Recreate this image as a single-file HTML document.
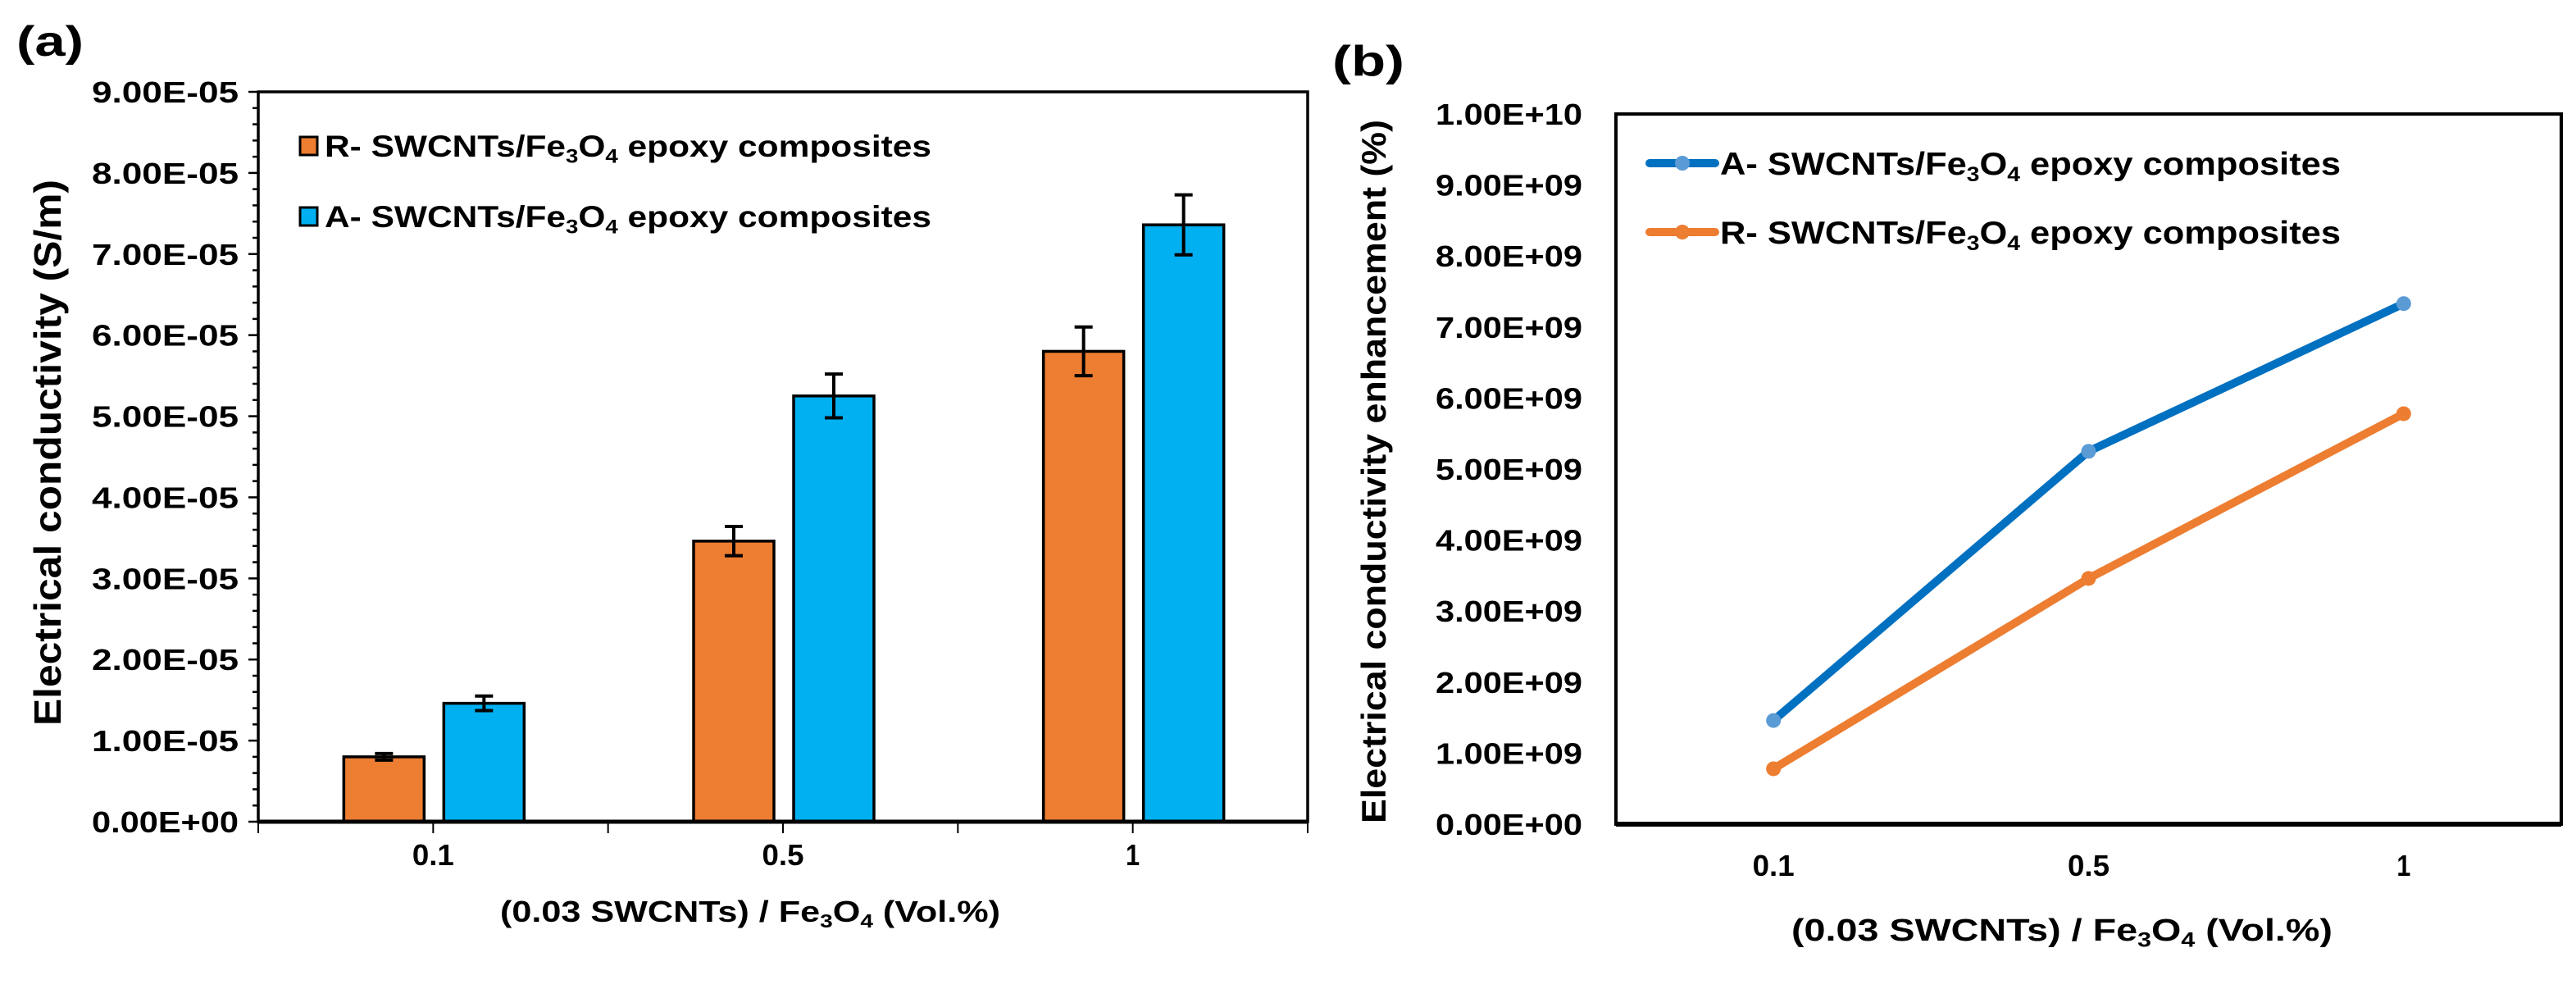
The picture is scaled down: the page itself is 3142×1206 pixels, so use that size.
<!DOCTYPE html>
<html><head><meta charset="utf-8"><style>
html,body{margin:0;padding:0;background:#fff;}
svg{display:block;font-family:"Liberation Sans",Arial,sans-serif;font-weight:bold;}
</style></head><body>
<svg id="fig" width="3142" height="1206" viewBox="0 0 3142 1206" xmlns="http://www.w3.org/2000/svg">
<text x="20" y="68" font-size="52" textLength="82" lengthAdjust="spacingAndGlyphs">(a)</text>
<text x="1625" y="92" font-size="52" textLength="88" lengthAdjust="spacingAndGlyphs">(b)</text>
<g id="ca"></g>
<g id="cb"></g>
</svg>
<script>
const categories = ["0.1", "0.5", "1"];
const rValues = [0.80, 3.46, 5.80];      // x1e-5 S/m
const aValues = [1.46, 5.25, 7.36];
const rErrors = [0.04, 0.18, 0.30];
const aErrors = [0.09, 0.27, 0.37];
const aTicks = ["0.00E+00","1.00E-05","2.00E-05","3.00E-05","4.00E-05","5.00E-05","6.00E-05","7.00E-05","8.00E-05","9.00E-05"];
const aEnh = [1.46, 5.25, 7.33];         // x1e9 %
const rEnh = [0.78, 3.46, 5.78];
const bTicks = ["0.00E+00","1.00E+09","2.00E+09","3.00E+09","4.00E+09","5.00E+09","6.00E+09","7.00E+09","8.00E+09","9.00E+09","1.00E+10"];

const NS = "http://www.w3.org/2000/svg";
function mk(parent, tag, attrs, text) {
  const e = document.createElementNS(NS, tag);
  for (const k in attrs) e.setAttribute(k, attrs[k]);
  if (text !== undefined) e.textContent = text;
  parent.appendChild(e);
  return e;
}
function feText(parent, x, y, size, len, pre, post, anchor) {
  const t = mk(parent, "text", {x: x, y: y, "font-size": size, textLength: len, lengthAdjust: "spacingAndGlyphs", "text-anchor": anchor || "start"});
  mk(t, "tspan", {}, pre + "Fe");
  mk(t, "tspan", {"font-size": size * 0.65, dy: size * 0.2}, "3");
  mk(t, "tspan", {dy: -size * 0.2}, "O");
  mk(t, "tspan", {"font-size": size * 0.65, dy: size * 0.2}, "4");
  mk(t, "tspan", {dy: -size * 0.2}, post);
  return t;
}

// ---------- Chart A ----------
const A = {l: 315, r: 1595, t: 112, b: 1002, max: 9};
const ga = document.getElementById("ca");
const ya = v => A.b - v / A.max * (A.b - A.t);
const bandA = (A.r - A.l) / categories.length;
const xa = i => A.l + bandA * (i + 0.5);
for (let k = 0; k <= A.max * 5; k++) {
  const v = k / 5;
  const tk = mk(ga, "line", {x1: A.l - (k % 5 === 0 ? 12 : 7), x2: A.l, y1: ya(v), y2: ya(v), stroke: "#000", "stroke-width": 2.5});
  
  
}
aTicks.forEach((s, i) => {
  const t = mk(ga, "text", {x: 291, y: ya(i) + 13, "font-size": 36, "text-anchor": "end", textLength: 179, lengthAdjust: "spacingAndGlyphs"}, s);
  
  
});
const bw = 98, gap = 24;
categories.forEach((c, i) => {
  const cx = xa(i) - 11;
  [[rValues, rErrors, "#ED7D31", -1, "bar-r"], [aValues, aErrors, "#00B0F0", 1, "bar-a"]].forEach(([vals, errs, col, side, nm]) => {
    const x0 = side < 0 ? cx - gap / 2 - bw + 12 : cx + gap / 2 + 12;
    const bar = mk(ga, "rect", {x: x0, y: ya(vals[i]), width: bw, height: A.b - ya(vals[i]), fill: col, stroke: "#000", "stroke-width": 3.5});
    
    
    const ex = x0 + bw / 2;
    const eb = mk(ga, "path", {d: `M${ex},${ya(vals[i] - errs[i])}V${ya(vals[i] + errs[i])}M${ex - 11},${ya(vals[i] - errs[i])}h22M${ex - 11},${ya(vals[i] + errs[i])}h22`, stroke: "#000", "stroke-width": 4, fill: "none"});
    
    
  });
  const tl = mk(ga, "text", {x: xa(i), y: 1055, "font-size": 36, "text-anchor": "middle", textLength: 17 * c.length, lengthAdjust: "spacingAndGlyphs"}, c);
  
  
});
for (let k = 0; k <= categories.length * 2; k++) {
  const x = A.l + bandA * k / 2;
  mk(ga, "line", {x1: x, x2: x, y1: A.b, y2: A.b + 14, stroke: "#000", "stroke-width": 2});
}
mk(ga, "rect", {x: A.l, y: A.t, width: A.r - A.l, height: A.b - A.t, fill: "none", stroke: "#000", "stroke-width": 3.5});
mk(ga, "line", {x1: A.l, x2: A.r, y1: A.b, y2: A.b, stroke: "#000", "stroke-width": 5});
const yta = mk(ga, "text", {transform: "translate(74,552) rotate(-90)", "font-size": 46, "text-anchor": "middle", textLength: 666, lengthAdjust: "spacingAndGlyphs"}, "Electrical conductivity (S/m)");


const xta = feText(ga, 915, 1124, 36, 610, "(0.03 SWCNTs) / ", " (Vol.%)", "middle");


[["#ED7D31", "R- SWCNTs/", 178, "legend-entry-r"], ["#00B0F0", "A- SWCNTs/", 264, "legend-entry-a"]].forEach(([col, pre, y, nm]) => {
  const g = mk(ga, "g", {});
  
  
  mk(g, "rect", {x: 366, y: y - 11, width: 21, height: 22, fill: col, stroke: "#000", "stroke-width": 3});
  feText(g, 396, y + 13, 37, 740, pre, " epoxy composites");
});

// ---------- Chart B ----------
const B = {l: 1971, r: 3124, t: 139, b: 1005, max: 10};
const gb = document.getElementById("cb");
const yb = v => B.b - v / B.max * (B.b - B.t);
const bandB = (B.r - B.l) / categories.length;
const xb = i => B.l + bandB * (i + 0.5);
bTicks.forEach((s, i) => {
  const t = mk(gb, "text", {x: 1930, y: yb(i) + 13, "font-size": 36, "text-anchor": "end", textLength: 179, lengthAdjust: "spacingAndGlyphs"}, s);
  
  
});
mk(gb, "rect", {x: B.l, y: B.t, width: B.r - B.l, height: B.b - B.t, fill: "none", stroke: "#000", "stroke-width": 4});
mk(gb, "line", {x1: B.l, x2: B.r, y1: B.b, y2: B.b, stroke: "#000", "stroke-width": 6});
categories.forEach((c, i) => {
  const tl = mk(gb, "text", {x: xb(i), y: 1068, "font-size": 36, "text-anchor": "middle", textLength: 17 * c.length, lengthAdjust: "spacingAndGlyphs"}, c);
  
  
});
[[rEnh, "#ED7D31", "#ED7D31", "line-r"], [aEnh, "#0070C0", "#5B9BD5", "line-a"]].forEach(([vals, col, mcol, nm]) => {
  const pl = mk(gb, "polyline", {points: vals.map((v, i) => xb(i) + "," + yb(v)).join(" "), fill: "none", stroke: col, "stroke-width": 10, "stroke-linejoin": "round"});
  
  
  vals.forEach((v, i) => {
    const p = mk(gb, "circle", {cx: xb(i), cy: yb(v), r: 9, fill: mcol});
    
    
  });
});
const ytb = mk(gb, "text", {transform: "translate(1690,575) rotate(-90)", "font-size": 42, "text-anchor": "middle", textLength: 858, lengthAdjust: "spacingAndGlyphs"}, "Electrical conductivity enhancement (%)");


const xtb = feText(gb, 2515, 1147, 38, 660, "(0.03 SWCNTs) / ", " (Vol.%)", "middle");


[["#0070C0", "#5B9BD5", "A- SWCNTs/", 199, "legend-entry-a-b"], ["#ED7D31", "#ED7D31", "R- SWCNTs/", 283, "legend-entry-r-b"]].forEach(([col, mcol, pre, y, nm]) => {
  const g = mk(gb, "g", {});
  
  
  mk(g, "line", {x1: 2012, x2: 2092, y1: y, y2: y, stroke: col, "stroke-width": 10, "stroke-linecap": "round"});
  mk(g, "circle", {cx: 2052, cy: y, r: 9, fill: mcol});
  feText(g, 2098, y + 14, 39, 757, pre, " epoxy composites");
});
</script>
</body></html>
